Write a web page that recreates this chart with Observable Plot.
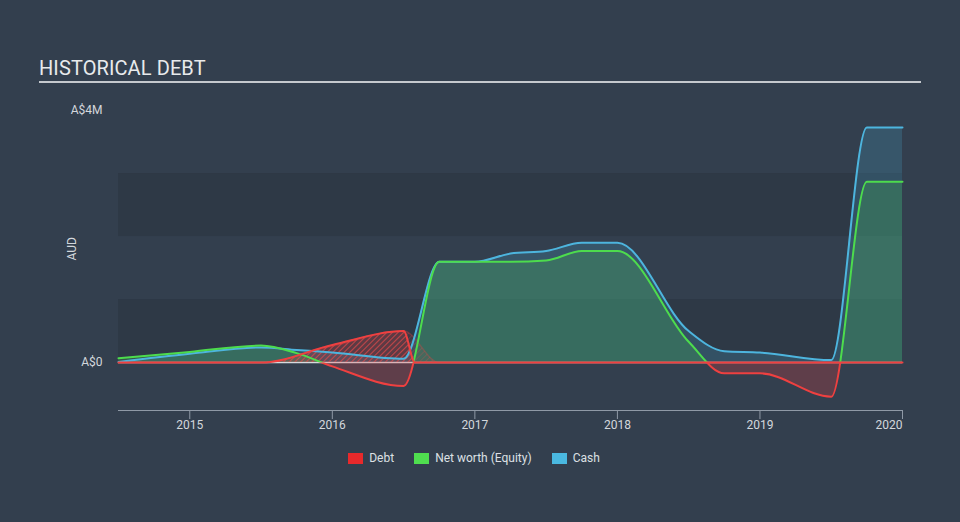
<!DOCTYPE html>
<html>
<head>
<meta charset="utf-8">
<script src="https://cdn.jsdelivr.net/npm/d3@7"></script>
<script src="https://cdn.jsdelivr.net/npm/@observablehq/plot@0.6"></script>
<style>
  html, body { margin: 0; padding: 0; background: #333f4e; }
  #wrap { position: relative; width: 960px; height: 522px; background: #333f4e; overflow: hidden;
          font-family: Roboto, "Noto Sans", sans-serif; }
  #title { position: absolute; left: 39px; top: 56px; font-size: 20px; color: #e8eaec; letter-spacing: 0.1px; }
  #rule { position: absolute; left: 39px; top: 81px; width: 882px; height: 2px; background: #c5c9ce; }
  #chart { position: absolute; left: 0; top: 0; }
  #legend { position: absolute; left: 0; top: 451px; width: 960px; display: flex; justify-content: center;
            padding-right: 12px; box-sizing: border-box; font-size: 12px; color: #dde0e4; }
  .item { display: flex; align-items: center; margin: 0 10px; }
  .sw { width: 15px; height: 11px; margin-right: 6px; }
</style>
</head>
<body>
<div id="wrap">
  <div id="title">HISTORICAL DEBT</div>
  <div id="rule"></div>
  <div id="chart"></div>
  <div id="legend"></div>
</div>
<script>
// ---- data (A$ millions) ----
const years   = [2014.5, 2015.0, 2015.5, 2015.75, 2016.0, 2016.5, 2016.75, 2017.0, 2017.25, 2017.5, 2017.75, 2018.0, 2018.5, 2018.75, 2019.0, 2019.5, 2019.75, 2020.0];
const cash    = [0.01,   0.14,   0.24,   0.20,    0.16,   0.06,   1.60,    1.60,   1.73,    1.77,   1.90,    1.90,   0.50,   0.18,    0.16,   0.04,   3.73,    3.73];
const equity  = [0.07,   0.17,   0.27,   0.15,   -0.06,  -0.37,   1.60,    1.60,   1.60,    1.62,   1.77,    1.77,   0.33,  -0.17,   -0.17,  -0.54,   2.87,    2.87];
const debtYears = [2014.5, 2015.5, 2016.0, 2016.5, 2016.58, 2017.0, 2020.0];
const debt      = [0,      0,      0.28,   0.50,   0,       0,      0];
const debtFadeYears = [2014.5, 2015.5, 2016.0, 2016.5, 2016.75, 2017.0];
const debtFade      = [0,      0,      0.26,   0.50,   0,       0];
const xTicks = [2015, 2016, 2017, 2018, 2019, 2020];
const xTickLabels = ["2015", "2016", "2017", "2018", "2019", "2020"];
const yTicks = [0, 4];
const yTickLabels = ["A$0", "A$4M"];
const gridBands = [[0, 1], [2, 3]];
const seriesNames = ["Debt", "Net worth (Equity)", "Cash"];
const seriesColors = ["#e8292b", "#4fde4f", "#4ab8e0"];

const xDomain = [2014.5, 2020];
const yDomain = [-0.76, 4];

const cashData = years.map((x, i) => ({x, v: cash[i]}));
const eqData = years.map((x, i) => ({x, v: equity[i]}));
const debtData = debtYears.map((x, i) => ({x, v: debt[i]}));
const debtFadeData = debtFadeYears.map((x, i) => ({x, v: debtFade[i]}));

const RED = "#ef4040", GREEN = "#4ddc4d", BLUE = "#4db5de";
const lastTick = xTicks[xTicks.length - 1];
const H = 440;

// render transform: wrap a mark's group in a clip (above or below zero)
let zeroY = null;
const clipTo = (id) => function (index, scales, values, dimensions, context, next) {
  zeroY = scales.y(0);
  const g = next(index, scales, values, dimensions, context);
  if (g) g.setAttribute("clip-path", `url(#${id})`);
  return g;
};

const plot = Plot.plot({
  width: 960,
  height: H,
  marginTop: 110,
  marginBottom: 30,
  marginLeft: 118,
  marginRight: 58,
  style: {background: "transparent", fontFamily: "Roboto, 'Noto Sans', sans-serif", fontSize: "12px", color: "#d3d7dc", overflow: "visible"},
  x: {domain: xDomain, label: null},
  y: {domain: yDomain, label: null},
  marks: [
    Plot.rect(gridBands, {x1: () => xDomain[0], x2: () => xDomain[1], y1: d => d[0], y2: d => d[1], fill: "#2e3946"}),
    Plot.ruleY([0], {stroke: "#d6d9dd", strokeWidth: 1.5}),
    Plot.areaY(cashData, {x: "x", y: "v", curve: "monotone-x", fill: BLUE, fillOpacity: 0.2}),
    Plot.areaY(eqData, {x: "x", y: "v", curve: "monotone-x", fill: GREEN, fillOpacity: 0.2, render: clipTo("clipPos")}),
    Plot.areaY(eqData, {x: "x", y: "v", curve: "monotone-x", fill: RED, fillOpacity: 0.24, render: clipTo("clipNeg")}),
    Plot.areaY(debtFadeData, {x: "x", y: "v", curve: "monotone-x", fill: "url(#hatchFade)"}),
    Plot.lineY(debtFadeData, {x: "x", y: "v", curve: "monotone-x", stroke: RED, strokeOpacity: 0.3, strokeWidth: 1.5}),
    Plot.areaY(debtData, {x: "x", y: "v", curve: "monotone-x", fill: "url(#hatch)"}),
    Plot.lineY(cashData, {x: "x", y: "v", curve: "monotone-x", stroke: BLUE, strokeWidth: 2}),
    Plot.lineY(eqData, {x: "x", y: "v", curve: "monotone-x", stroke: GREEN, strokeWidth: 2, render: clipTo("clipPos")}),
    Plot.lineY(eqData, {x: "x", y: "v", curve: "monotone-x", stroke: RED, strokeWidth: 2, render: clipTo("clipNeg")}),
    Plot.lineY(debtData, {x: "x", y: "v", curve: "monotone-x", stroke: RED, strokeWidth: 2}),
    Plot.ruleY([yDomain[0]], {stroke: "#8f99a6", strokeWidth: 1.2}),
    Plot.axisX(xTicks.filter(t => t !== lastTick), {tickSize: 9, tickPadding: 1, stroke: "#8f99a6", fill: "#d3d7dc", label: null,
      tickFormat: d => xTickLabels[xTicks.indexOf(d)]}),
    Plot.axisX([lastTick], {tickSize: 9, tickPadding: 1, stroke: "#8f99a6", fill: "#d3d7dc", label: null, textAnchor: "end",
      tickFormat: d => xTickLabels[xTicks.indexOf(d)]}),
    Plot.axisY(yTicks, {tickSize: 0, tickPadding: 16, fill: "#d3d7dc", label: null,
      tickFormat: d => yTickLabels[yTicks.indexOf(d)]}),
    Plot.text(["AUD"], {frameAnchor: "left", dx: -46, rotate: -90, text: d => d, fill: "#d3d7dc", fontSize: 12})
  ]
});

let y0 = zeroY;
if (!isFinite(y0)) y0 = plot.scale("y").apply(0);

// defs: hatch patterns and sign clips
const ns = "http://www.w3.org/2000/svg";
const mk = (tag, attrs, parent) => {
  const el = document.createElementNS(ns, tag);
  for (const k in attrs) el.setAttribute(k, attrs[k]);
  if (parent) parent.appendChild(el);
  return el;
};
const defs = mk("defs", {});
[["hatch", 0.2, 0.9, 1.3], ["hatchFade", 0.08, 0.4, 1.2]].forEach(([id, bgOp, lnOp, w]) => {
  const p = mk("pattern", {id, patternUnits: "userSpaceOnUse", width: 4, height: 4, patternTransform: "rotate(45)"}, defs);
  mk("rect", {width: 4, height: 4, fill: "#e23a3a", "fill-opacity": bgOp}, p);
  mk("line", {x1: 0, y1: 0, x2: 0, y2: 4, stroke: "#ea4b4b", "stroke-width": w, "stroke-opacity": lnOp}, p);
});
const cpPos = mk("clipPath", {id: "clipPos", clipPathUnits: "userSpaceOnUse"}, defs);
mk("rect", {x: 0, y: -100, width: 960, height: y0 + 100}, cpPos);
const cpNeg = mk("clipPath", {id: "clipNeg", clipPathUnits: "userSpaceOnUse"}, defs);
mk("rect", {x: 0, y: y0, width: 960, height: H - y0 + 100}, cpNeg);
plot.insertBefore(defs, plot.firstChild);

document.getElementById("chart").appendChild(plot);

// legend
const legend = document.getElementById("legend");
seriesNames.forEach((name, i) => {
  const item = document.createElement("div");
  item.className = "item";
  const sw = document.createElement("div");
  sw.className = "sw";
  sw.style.background = seriesColors[i];
  const label = document.createElement("span");
  label.textContent = name;
  item.appendChild(sw);
  item.appendChild(label);
  legend.appendChild(item);
});
</script>
</body>
</html>
